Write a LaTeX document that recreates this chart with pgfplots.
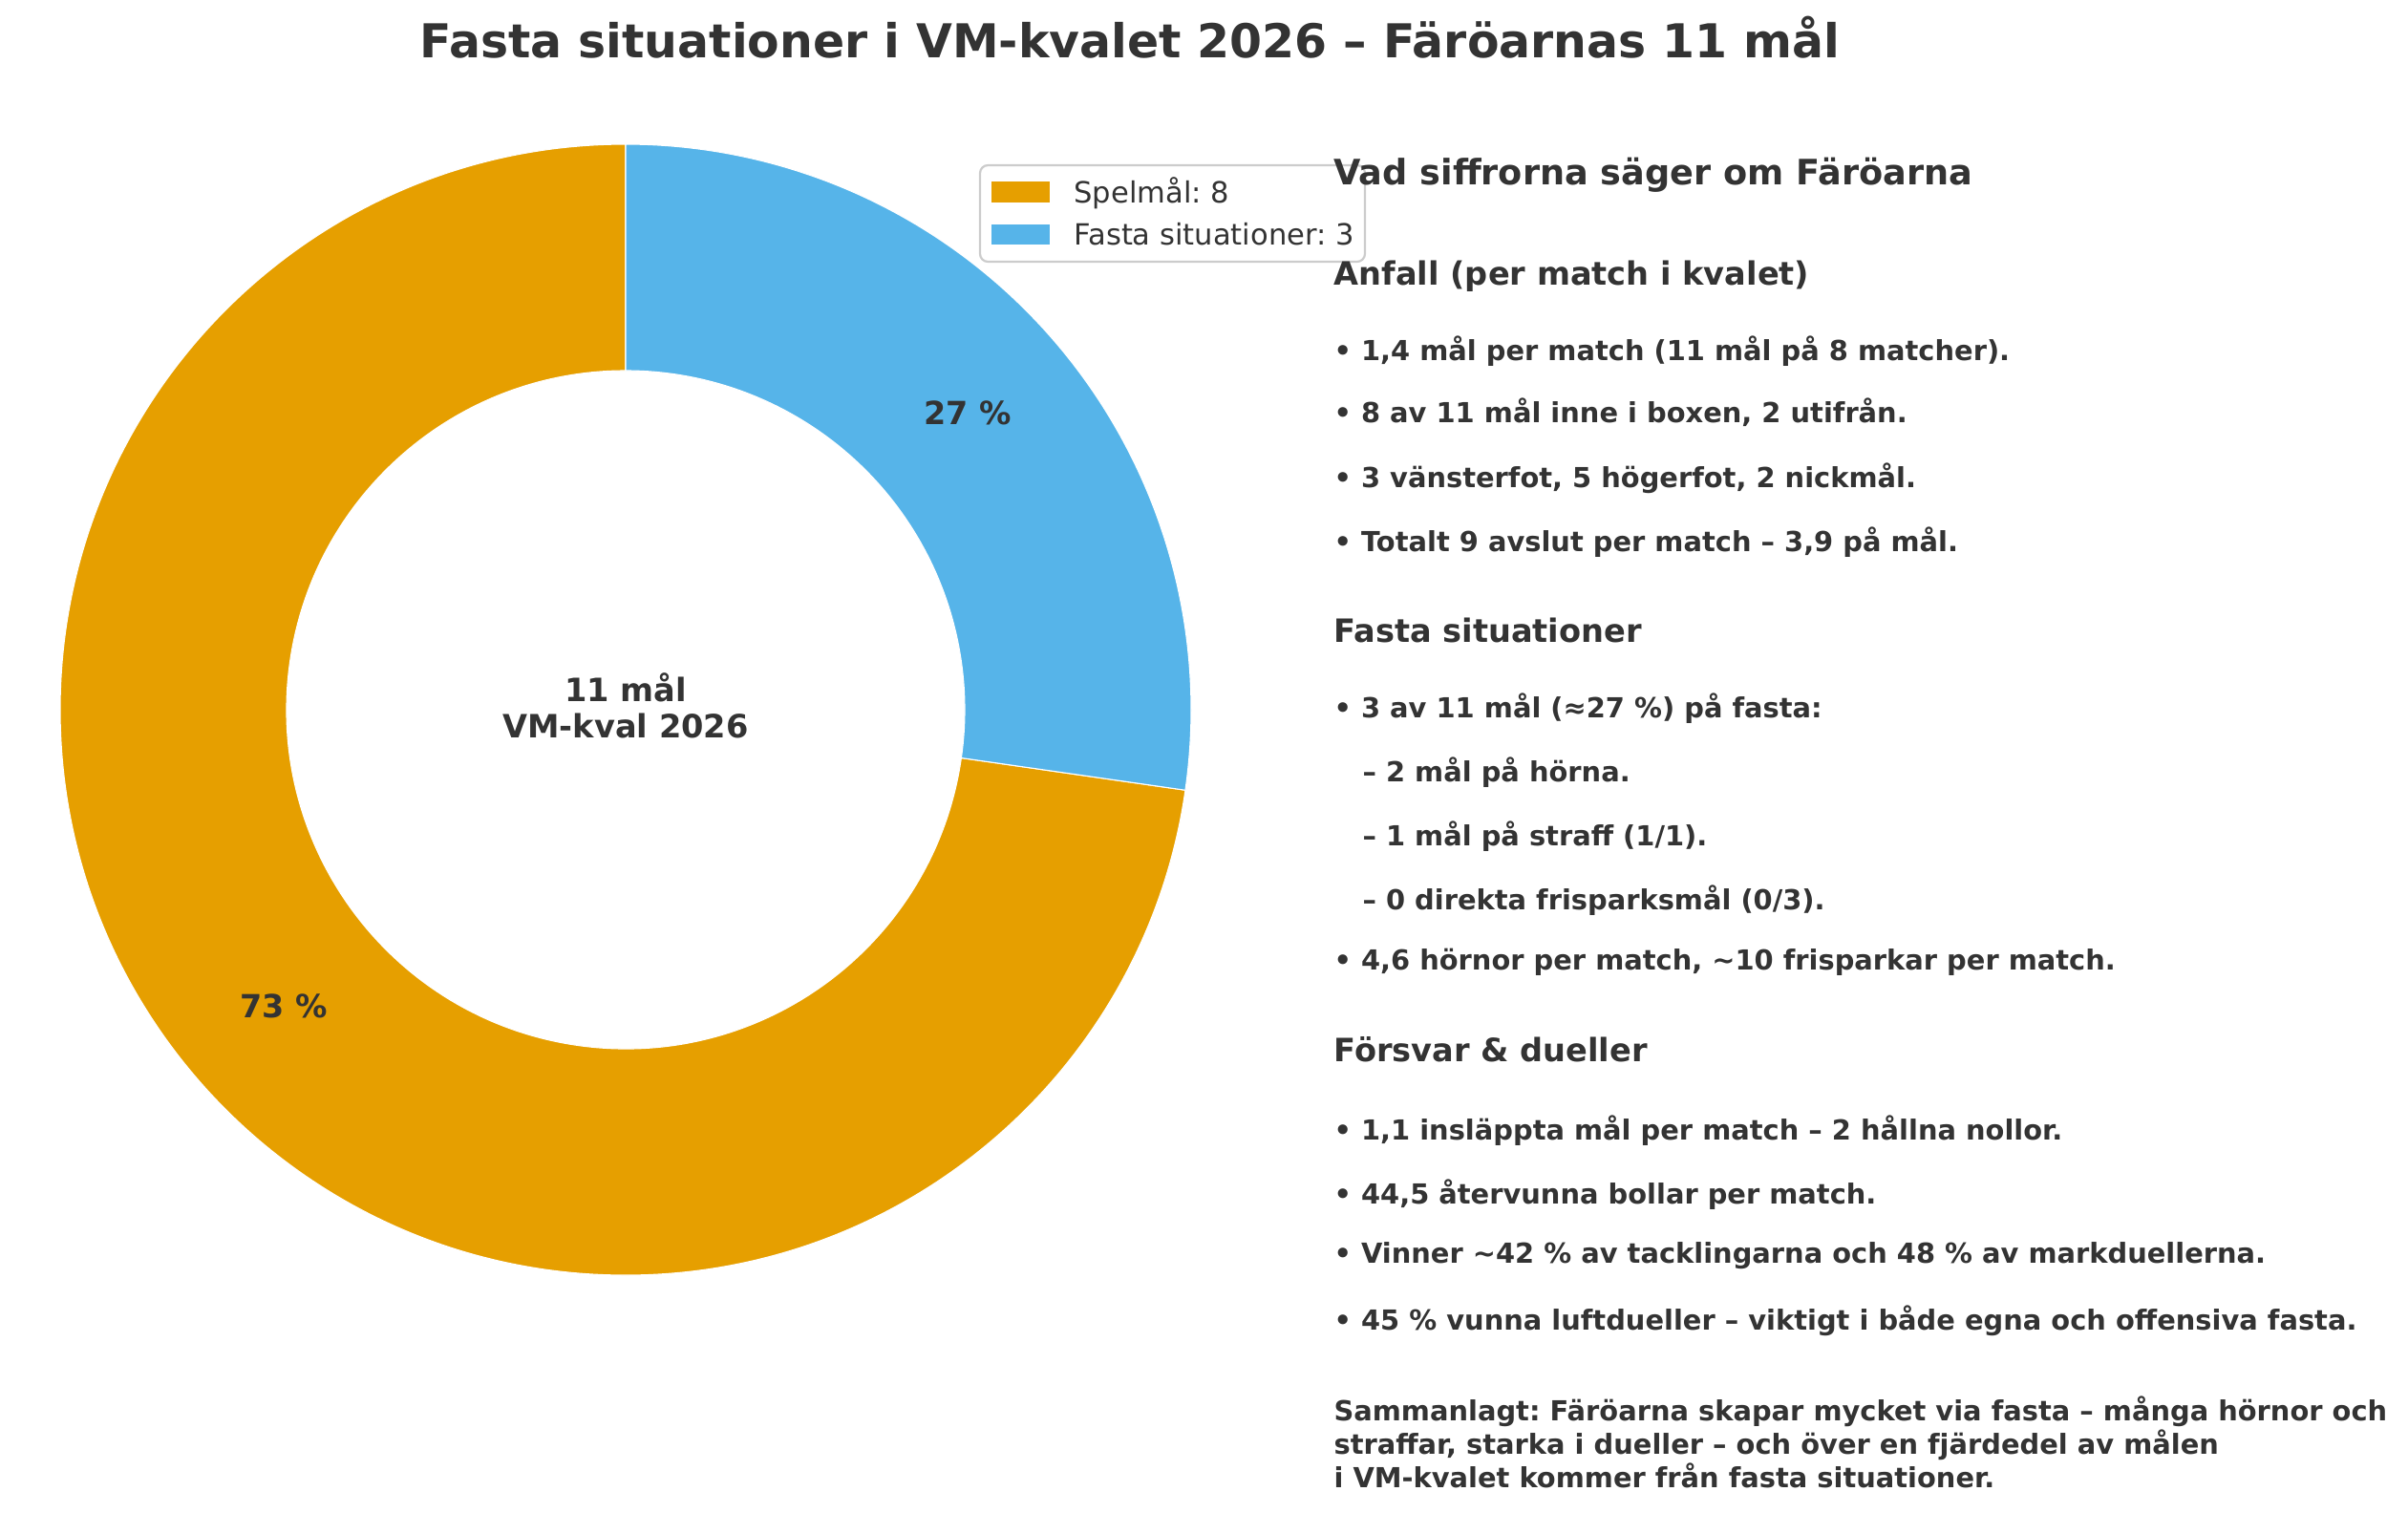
\documentclass[border=0pt]{standalone}
\usepackage{fontspec}
\setmainfont{DejaVu Sans}
\usepackage{pgfplots}
\usepackage{pgfplotstable}
\pgfplotsset{compat=1.18}

\definecolor{spel}{HTML}{E69F00}
\definecolor{fasta}{HTML}{56B4E9}
\definecolor{ink}{HTML}{333333}
\definecolor{legframe}{HTML}{CCCCCC}

% 1 px of the reference = 0.36bp
\newcommand{\fs}[1]{\fontsize{#1bp}{#1bp}\selectfont}

\pgfplotstableread{
kategori antal
Spelmal  8
Fasta    3
}\goals
\pgfplotstablegetelem{0}{antal}\of\goals \let\nspel\pgfplotsretval
\pgfplotstablegetelem{1}{antal}\of\goals \let\nfasta\pgfplotsretval
\pgfmathsetmacro\total{\nspel+\nfasta}
\pgfmathsetmacro\aA{90}
\pgfmathsetmacro\aB{90+360*\nspel/\total}
\pgfmathsetmacro\aC{450}
\pgfmathsetmacro\mA{(\aA+\aB)/2}
\pgfmathsetmacro\mB{(\aB+\aC)/2}
\pgfmathtruncatemacro\pA{round(100*\nspel/\total)}
\pgfmathtruncatemacro\pB{round(100*\nfasta/\total)}
\def\Rout{213.12bp}
\def\Rin{127.8bp}
\def\Rlab{170.5bp}

\begin{document}
\frenchspacing
\begin{tikzpicture}
\begin{axis}[
  width=907.56bp, height=570.24bp, scale only axis,
  xmin=0, xmax=2521, ymin=0, ymax=1584, y dir=reverse,
  hide axis, clip=false,
]
\coordinate (C) at (axis cs:655,743);
% donut wedges
\fill[spel, draw=white, line width=0.4bp]
  ([shift={(\aA:\Rout)}]C) arc[start angle=\aA, end angle=\aB, radius=\Rout]
  -- ([shift={(\aB:\Rin)}]C) arc[start angle=\aB, end angle=\aA, radius=\Rin] -- cycle;
\fill[fasta, draw=white, line width=0.4bp]
  ([shift={(\aB:\Rout)}]C) arc[start angle=\aB, end angle=\aC, radius=\Rout]
  -- ([shift={(\aC:\Rin)}]C) arc[start angle=\aC, end angle=\aB, radius=\Rin] -- cycle;
\node[font=\fs{12}\bfseries, text=ink, inner sep=0] at ([shift={(\mA:\Rlab)}]C) {\pA~\%};
\node[font=\fs{12}\bfseries, text=ink, inner sep=0] at ([shift={(\mB:\Rlab)}]C) {\pB~\%};
\node[font=\fs{12.1}\bfseries, text=ink, inner sep=0, anchor=base] at (axis cs:655,734) {11 mål};
\node[font=\fs{12.1}\bfseries, text=ink, inner sep=0, anchor=base] at (axis cs:655,772) {VM-kval 2026};

% title
\node[font=\fs{17.6}\bfseries, text=ink, inner sep=0, anchor=base] at (axis cs:1183,60)
  {Fasta situationer i VM-kvalet 2026 – Färöarnas 11 mål};

% legend
\draw[legframe, fill=white, line width=0.8bp, rounded corners=3bp]
  (axis cs:1026,173) rectangle (axis cs:1429,274);
\fill[spel] (axis cs:1038,190) rectangle (axis cs:1099,212);
\fill[fasta] (axis cs:1038,235) rectangle (axis cs:1099,256);
\node[font=\fs{11}, text=ink, inner sep=0, anchor=base west] at (axis cs:1124,212) {Spelmål: 8};
\node[font=\fs{11}, text=ink, inner sep=0, anchor=base west] at (axis cs:1124,256) {Fasta situationer: 3};

% text column
\begin{scope}[every node/.style={text=ink, inner sep=0, anchor=base west}]
\node[font=\fs{13.2}\bfseries] at (axis cs:1396,193) {Vad siffrorna säger om Färöarna};
\node[font=\fs{12.1}\bfseries] at (axis cs:1396,298) {Anfall (per match i kvalet)};
\node[font=\fs{10.4}\bfseries] at (axis cs:1396,377) {• 1,4 mål per match (11 mål på 8 matcher).};
\node[font=\fs{10.4}\bfseries] at (axis cs:1396,442) {• 8 av 11 mål inne i boxen, 2 utifrån.};
\node[font=\fs{10.4}\bfseries] at (axis cs:1396,510) {• 3 vänsterfot, 5 högerfot, 2 nickmål.};
\node[font=\fs{10.4}\bfseries] at (axis cs:1396,577) {• Totalt 9 avslut per match – 3,9 på mål.};
\node[font=\fs{12.1}\bfseries] at (axis cs:1396,672) {Fasta situationer};
\node[font=\fs{10.4}\bfseries] at (axis cs:1396,751) {• 3 av 11 mål (≈27 \%) på fasta:};
\node[font=\fs{10.4}\bfseries] at (axis cs:1426,818) {– 2 mål på hörna.};
\node[font=\fs{10.4}\bfseries] at (axis cs:1426,885) {– 1 mål på straff (1/1).};
\node[font=\fs{10.4}\bfseries] at (axis cs:1426,952) {– 0 direkta frisparksmål (0/3).};
\node[font=\fs{10.4}\bfseries] at (axis cs:1396,1015) {• 4,6 hörnor per match, \textasciitilde10 frisparkar per match.};
\node[font=\fs{12.1}\bfseries] at (axis cs:1396,1111) {Försvar \& dueller};
\node[font=\fs{10.4}\bfseries] at (axis cs:1396,1193) {• 1,1 insläppta mål per match – 2 hållna nollor.};
\node[font=\fs{10.4}\bfseries] at (axis cs:1396,1260) {• 44,5 återvunna bollar per match.};
\node[font=\fs{10.4}\bfseries] at (axis cs:1396,1322) {• Vinner \textasciitilde42 \% av tacklingarna och 48 \% av markduellerna.};
\node[font=\fs{10.4}\bfseries] at (axis cs:1396,1392) {• 45 \% vunna luftdueller – viktigt i både egna och offensiva fasta.};
\node[font=\fs{10.4}\bfseries] at (axis cs:1396,1487) {Sammanlagt: Färöarna skapar mycket via fasta – många hörnor och};
\node[font=\fs{10.4}\bfseries] at (axis cs:1396,1522) {straffar, starka i dueller – och över en fjärdedel av målen};
\node[font=\fs{10.4}\bfseries] at (axis cs:1396,1557) {i VM-kvalet kommer från fasta situationer.};
\end{scope}
\end{axis}
\pgfresetboundingbox
\path[use as bounding box] (0,0) rectangle (907.56bp,570.24bp);
\end{tikzpicture}
\end{document}
